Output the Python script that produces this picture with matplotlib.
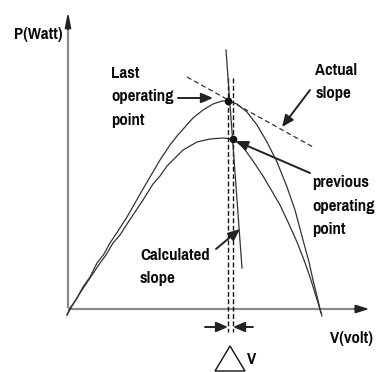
import matplotlib.pyplot as plt
from matplotlib.patches import Polygon

# P-V curves, V and P counted from the origin of the sketch axes
v_last = [-1, 2, 8, 15, 22, 29, 36, 42, 50, 59, 67, 75, 82, 92, 102, 109, 117, 125,
          135, 145, 154, 160, 169, 179, 189, 199, 209, 219, 227, 235, 241, 245, 249, 252, 254]
p_last = [-7, 0, 8, 21, 31, 45, 54, 65, 77, 91, 105, 119, 131, 148, 163, 172, 181, 190,
          198, 204, 207, 207, 204, 196, 183, 166, 146, 121, 98, 68, 46, 28, 12, -1, -8]

v_prev = [-1, 4, 12, 22, 32, 38, 45, 52, 59, 67, 75, 85, 92, 99, 109, 115, 122, 129,
          142, 155, 165, 175, 185, 195, 205, 212, 220, 229, 236, 242, 247, 251, 253]
p_prev = [-7, 2, 15, 30, 45, 53, 65, 73, 84, 96, 108, 124, 132, 142, 152, 158, 162, 166,
          169, 170, 169, 161, 147, 132, 115, 103, 86, 66, 48, 31, 15, 2, -5]

# last and previous operating points
op_v = [160, 165]
op_p = [207, 169]

# slope lines
actual_v = [119, 245]
actual_p = [231, 161]
calc_v = [158, 174]
calc_p = [258, 40]

# dashed guides at the two operating voltages
guide_top = 230
guide_bottom = -24

ORIGIN = (68, 308)


def px(x, y):
    # pixel position on the canvas -> data coordinates
    return (x - ORIGIN[0], ORIGIN[1] - y)


fig = plt.figure(figsize=(3.77, 3.72), dpi=100)
ax = fig.add_axes([0, 0, 1, 1])
ax.set_xlim(-ORIGIN[0], 377 - ORIGIN[0])
ax.set_ylim(ORIGIN[1] - 372, ORIGIN[1])
ax.axis('off')

axis_col = '#8a8a8a'
line_col = '#333333'
text_kw = dict(family=['Pragati Narrow', 'Roboto Condensed', 'DejaVu Sans'],
               fontweight='bold', fontsize=13.2, color='#0a0a0a', linespacing=1.72,
               va='center', ha='left')

# axes with arrow heads
ax.plot([0, 0], [0, 290], color=axis_col, lw=1.6, solid_capstyle='butt')
ax.plot([0, 292], [-1, -1], color=axis_col, lw=1.6, solid_capstyle='butt')
ax.annotate('', xy=px(68, 9), xytext=px(68, 32),
            arrowprops=dict(arrowstyle='-|>,head_length=0.9,head_width=0.18',
                            color='#222222', lw=1.2))
ax.annotate('', xy=px(372, 309), xytext=px(352, 309),
            arrowprops=dict(arrowstyle='-|>,head_length=0.8,head_width=0.25',
                            color='#222222', lw=1.2))

# curves
ax.plot(v_last, p_last, color=line_col, lw=0.9)
ax.plot(v_prev, p_prev, color=line_col, lw=0.9)

# dashed verticals
for v in op_v:
    ax.plot([v, v], [guide_top, guide_bottom], color='#111111', lw=1.0,
            dashes=(3.5, 1.8))

ax.plot(actual_v, actual_p, color='#333333', lw=0.9, dashes=(4, 2.5))
ax.plot(calc_v, calc_p, color='#333333', lw=0.9)

ax.plot(op_v, op_p, 'o', color='#111111', ms=4.5, zorder=5)

arrow_kw = dict(arrowstyle='-|>,head_length=0.7,head_width=0.3', color='#222222', lw=1.4,
                shrinkA=0, shrinkB=0)

ax.text(*px(111, 97), 'Last\noperating\npoint', **text_kw)
ax.annotate('', xy=px(213, 98), xytext=px(178, 98), arrowprops=arrow_kw)

ax.text(*px(315, 82), 'Actual\nslope', **text_kw)
ax.annotate('', xy=px(282, 127), xytext=px(310, 90), arrowprops=arrow_kw)

ax.text(*px(312, 206), 'previous\noperating\npoint', **text_kw)
ax.annotate('', xy=px(236, 141), xytext=px(310, 173), arrowprops=arrow_kw)

ax.text(*px(140, 267), 'Calculated\nslope', **text_kw)
ax.annotate('', xy=px(240, 229), xytext=px(216, 249), arrowprops=arrow_kw)

ax.text(*px(330, 338), 'V(volt)', **text_kw)
ax.text(*px(14, 34), 'P(Watt)', **text_kw)

# delta V markers
ax.annotate('', xy=px(228, 327), xytext=px(205, 327), arrowprops=arrow_kw)
ax.annotate('', xy=px(233, 327), xytext=px(253, 327), arrowprops=arrow_kw)
ax.add_patch(Polygon([px(230, 346), px(215, 371), px(245, 371)], closed=True,
                     fill=False, edgecolor='#111111', lw=1.0))
ax.text(*px(247, 359), 'V', **text_kw)

fig.savefig('out.png', dpi=100)
